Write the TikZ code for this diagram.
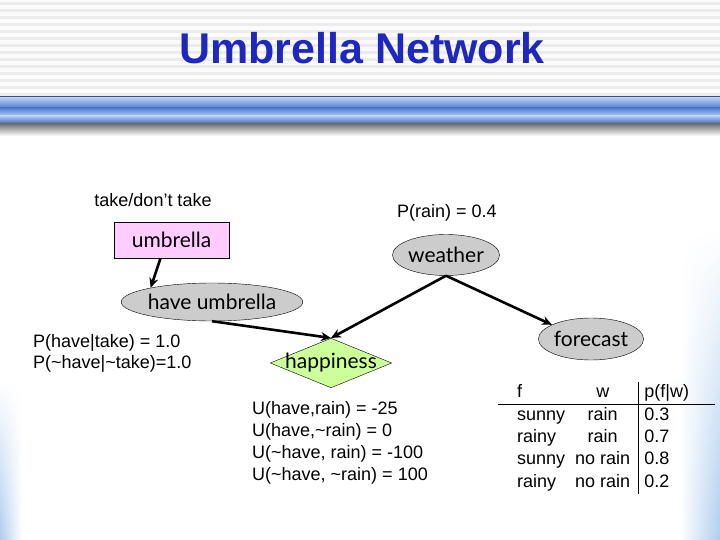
\documentclass[tikz,border=0pt]{standalone}
\usepackage{fontspec}
\setmainfont{Liberation Sans}
\newfontfamily\nodefont{Lato}
\usepackage{tikz}
\usetikzlibrary{shapes.geometric,arrows.meta,fadings}
\definecolor{titleblue}{RGB}{30,40,190}
\definecolor{stripegray}{RGB}{236,236,236}
\definecolor{barnavy}{RGB}{70,70,130}
\definecolor{barlight}{RGB}{175,205,242}
\definecolor{barmid}{RGB}{85,125,205}
\definecolor{bardark}{RGB}{65,95,185}
\definecolor{edgeblue}{RGB}{175,205,238}
\definecolor{pinkfill}{RGB}{255,204,255}
\definecolor{nodegray}{RGB}{204,204,204}
\definecolor{greenfill}{RGB}{204,255,153}

\begin{document}
\begin{tikzpicture}[
  x=1pt, y=-1pt,
  var/.style={draw, ellipse, fill=nodegray, inner sep=0pt, font=\nodefont\fontsize{21}{24}\selectfont},
  decision/.style={draw, rectangle, fill=pinkfill, inner sep=0pt, font=\nodefont\fontsize{21}{24}\selectfont},
  utility/.style={draw, diamond, fill=greenfill, aspect=2.45, inner xsep=-6pt, inner ysep=-1pt, font=\nodefont\fontsize{21}{24}\selectfont},
  label/.style={align=left, inner sep=0pt, font=\fontsize{18}{21}\selectfont},
  arrow/.style={-{Stealth[length=10pt, width=9pt]}, line width=2.6pt},
]
% Background
\useasboundingbox (0,0) rectangle (720,540);
\fill[white!97!gray] (0,0) rectangle (720,96);
\foreach \y in {2,9,...,93} \fill[stripegray] (0,\y) rectangle (720,\y+3);
\fill[barnavy] (0,96) rectangle (720,98);
\shade[top color=barlight, bottom color=barmid] (0,98) rectangle (720,108);
\shade[top color=barmid, bottom color=barlight] (0,108) rectangle (720,116);
\shade[top color=barlight, bottom color=bardark] (0,116) rectangle (720,124);
\shade[top color=black!55, bottom color=white] (0,124) rectangle (720,136);
\shade[left color=white, right color=edgeblue, path fading=north] (680,230) rectangle (720,540);
\shade[left color=edgeblue, right color=white, path fading=north] (0,380) rectangle (22,540);

% Title
\node[font=\bfseries\fontsize{43}{48}\selectfont, text=titleblue] (title) at (362,48) {Umbrella Network};

% Nodes
\node[decision, minimum width=115pt, minimum height=36pt] (umbrella) at (171.5,240) {umbrella};
\node[var, minimum width=104pt, minimum height=41pt] (weather) at (446,255) {weather};
\node[var, minimum width=150pt, minimum height=38pt] (have) at (212,302) {have umbrella};
\node[utility] (happiness) at (331,363) {happiness};
\node[var, minimum width=101pt, minimum height=42pt] (forecast) at (591,339) {forecast};

% Arrows
\draw[arrow] ([xshift=-11pt]umbrella.south) -- (have.167);
\draw[arrow] (have.south) -- (happiness.north);
\draw[arrow] (weather.south) -- (happiness.north);
\draw[arrow] (weather.south) -- (forecast.160);

% Labels
\node[label] (decide) at (153,200) {take/don’t take};
\node[label] (prior) at (447,213) {P(rain) = 0.4};
\node[label, anchor=west] (cpt) at (33,353) {P(have|take) = 1.0\\P(\textasciitilde have|\textasciitilde take)=1.0};
\node[label, anchor=west, font=\fontsize{18}{21.8}\selectfont] (util) at (252,443) {U(have,rain) = -25\\U(have,\textasciitilde rain) = 0\\U(\textasciitilde have, rain) = -100\\U(\textasciitilde have, \textasciitilde rain) = 100};
\node[label, anchor=north west] (table) at (498,382) {%
  \renewcommand{\arraystretch}{1.06}%
  \begin{tabular}{@{\hspace{19pt}}l@{\hspace{10pt}}c@{\hspace{8pt}}|@{\hspace{6pt}}l@{\hspace{26pt}}}
  f & w & p(f|w)\\ \hline
  sunny & rain & 0.3\\
  rainy & rain & 0.7\\
  sunny & no rain & 0.8\\
  rainy & no rain & 0.2
  \end{tabular}};
\end{tikzpicture}
\end{document}
